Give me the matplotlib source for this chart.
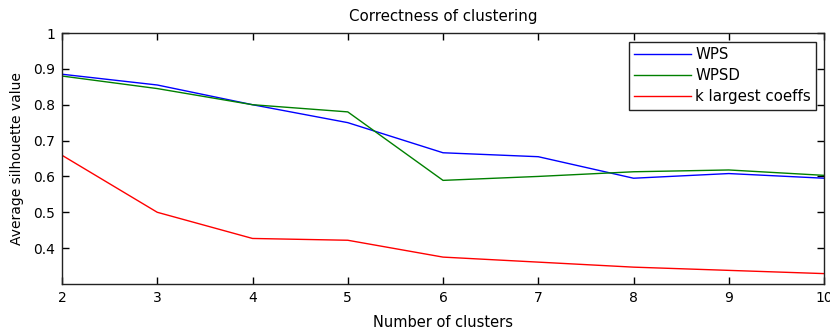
import matplotlib
matplotlib.use("Agg")
import matplotlib.pyplot as plt

clusters = [2, 3, 4, 5, 6, 7, 8, 9, 10]
wps = [0.885, 0.855, 0.800, 0.750, 0.666, 0.655, 0.595, 0.608, 0.595]
wpsd = [0.880, 0.845, 0.800, 0.780, 0.589, 0.600, 0.613, 0.618, 0.603]
k_largest = [0.659, 0.500, 0.427, 0.422, 0.375, 0.361, 0.347, 0.338, 0.329]

series_labels = ["WPS", "WPSD", "k largest coeffs"]
title = "Correctness of clustering"
xlabel = "Number of clusters"
ylabel = "Average silhouette value"
yticks = [0.4, 0.5, 0.6, 0.7, 0.8, 0.9, 1.0]
ytick_labels = ["0.4", "0.5", "0.6", "0.7", "0.8", "0.9", "1"]

plt.rcParams['font.family'] = ['DejaVu Sans']
plt.rcParams['font.size'] = 10

fig = plt.figure(figsize=(8.3, 3.31), dpi=100)
ax = fig.add_axes([0.0747, 0.142, 0.9181, 0.7583])

ax.plot(clusters, wps, color='#0000ff', lw=1.0, label=series_labels[0])
ax.plot(clusters, wpsd, color='#008000', lw=1.0, label=series_labels[1])
ax.plot(clusters, k_largest, color='#ff0000', lw=1.0, label=series_labels[2])

ax.set_xlim(2, 10)
ax.set_ylim(0.3, 1.0)
ax.set_xticks(clusters)
ax.set_xticklabels([str(c) for c in clusters])
ax.set_yticks(yticks)
ax.set_yticklabels(ytick_labels)
ax.tick_params(direction='in', top=True, right=True, length=5, width=1, pad=5, labelsize=10)
for s in ax.spines.values():
    s.set_linewidth(1.0)
    s.set_color('#222222')

ax.set_title(title, fontsize=10.8, pad=9)
ax.set_xlabel(xlabel, fontsize=10.5, labelpad=7)
ax.set_ylabel(ylabel, fontsize=10)
ax.yaxis.set_label_coords(-0.050, 0.5)

leg = ax.legend(loc='upper right', fancybox=False, framealpha=1, edgecolor='#222222',
                handlelength=3.8, handletextpad=0.25, borderpad=0.35, labelspacing=0.4,
                bbox_to_anchor=(0.9895, 0.964), borderaxespad=0, fontsize=10.8)
leg.get_frame().set_linewidth(1.0)

fig.savefig("out.png", dpi=100)
